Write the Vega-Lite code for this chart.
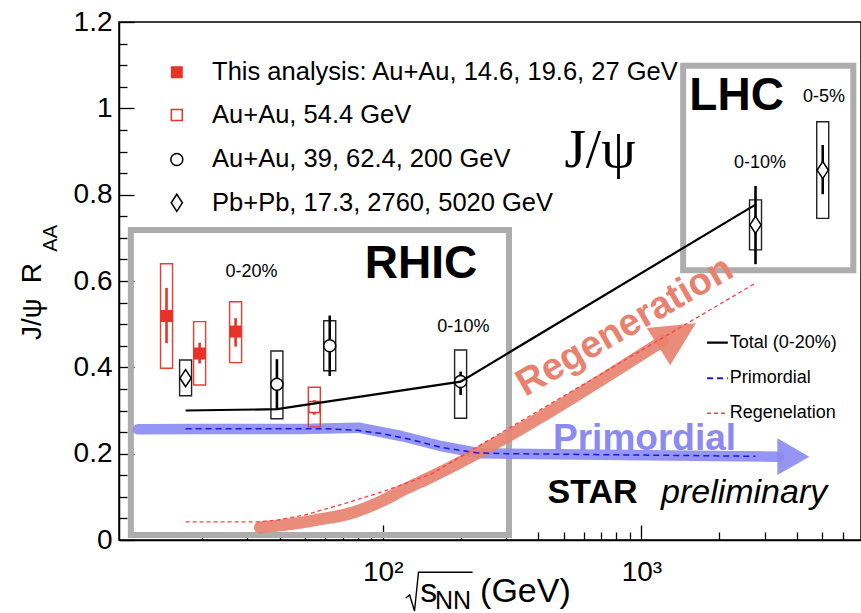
{
  "$schema": "https://vega.github.io/schema/vega-lite/v6.json",
  "width": 742,
  "height": 518,
  "autosize": {"type": "none"},
  "padding": {"left": 119, "top": 22, "right": 0, "bottom": 73},
  "background": "white",
  "config": {
    "view": {"stroke": "black", "strokeWidth": 1.5},
    "font": "Liberation Sans",
    "text": {"font": "Liberation Sans", "color": "black"}
  },
  "datasets": {
    "measurements": [
      {"label": "This analysis: Au+Au, 14.6, 19.6, 27 GeV", "x": 14.6, "y": 0.519, "statLo": 0.456, "statHi": 0.584, "sysLo": 0.398, "sysHi": 0.640},
      {"label": "This analysis: Au+Au, 14.6, 19.6, 27 GeV", "x": 19.6, "y": 0.432, "statLo": 0.409, "statHi": 0.457, "sysLo": 0.359, "sysHi": 0.506},
      {"label": "This analysis: Au+Au, 14.6, 19.6, 27 GeV", "x": 27, "y": 0.483, "statLo": 0.448, "statHi": 0.514, "sysLo": 0.411, "sysHi": 0.552},
      {"label": "Au+Au, 54.4 GeV", "x": 54.4, "y": 0.308, "statLo": 0.290, "statHi": 0.324, "sysLo": 0.262, "sysHi": 0.354},
      {"label": "Au+Au, 39, 62.4, 200 GeV", "x": 39, "y": 0.361, "statLo": 0.301, "statHi": 0.419, "sysLo": 0.281, "sysHi": 0.438},
      {"label": "Au+Au, 39, 62.4, 200 GeV", "x": 62.4, "y": 0.450, "statLo": 0.380, "statHi": 0.520, "sysLo": 0.392, "sysHi": 0.508},
      {"label": "Au+Au, 39, 62.4, 200 GeV", "x": 200, "y": 0.367, "statLo": 0.336, "statHi": 0.390, "sysLo": 0.282, "sysHi": 0.440},
      {"label": "Pb+Pb, 17.3, 2760, 5020 GeV", "x": 17.3, "y": 0.375, "statLo": 0.365, "statHi": 0.385, "sysLo": 0.334, "sysHi": 0.417},
      {"label": "Pb+Pb, 17.3, 2760, 5020 GeV", "x": 2760, "y": 0.730, "statLo": 0.639, "statHi": 0.820, "sysLo": 0.672, "sysHi": 0.788},
      {"label": "Pb+Pb, 17.3, 2760, 5020 GeV", "x": 5020, "y": 0.857, "statLo": 0.801, "statHi": 0.915, "sysLo": 0.745, "sysHi": 0.969}
    ],
    "legendRows": [
      {"label": "This analysis: Au+Au, 14.6, 19.6, 27 GeV", "x": 16.0, "tx": 21.9, "y": 1.0837},
      {"label": "Au+Au, 54.4 GeV", "x": 16.0, "tx": 21.9, "y": 0.9846},
      {"label": "Au+Au, 39, 62.4, 200 GeV", "x": 16.0, "tx": 21.9, "y": 0.8815},
      {"label": "Pb+Pb, 17.3, 2760, 5020 GeV", "x": 16.0, "tx": 21.9, "y": 0.7812}
    ],
    "models": [
      {"model": "Total", "x": 17.3, "y": 0.300},
      {"model": "Total", "x": 39, "y": 0.303},
      {"model": "Total", "x": 200, "y": 0.367},
      {"model": "Total", "x": 2760, "y": 0.777},
      {"model": "Primordial", "x": 17.3, "y": 0.258},
      {"model": "Primordial", "x": 60, "y": 0.258},
      {"model": "Primordial", "x": 80, "y": 0.254},
      {"model": "Primordial", "x": 100, "y": 0.246},
      {"model": "Primordial", "x": 130, "y": 0.232},
      {"model": "Primordial", "x": 170, "y": 0.214},
      {"model": "Primordial", "x": 230, "y": 0.202},
      {"model": "Primordial", "x": 300, "y": 0.200},
      {"model": "Primordial", "x": 2760, "y": 0.194},
      {"model": "Regeneration", "x": 17.3, "y": 0.042},
      {"model": "Regeneration", "x": 33, "y": 0.042},
      {"model": "Regeneration", "x": 39, "y": 0.046},
      {"model": "Regeneration", "x": 50, "y": 0.058},
      {"model": "Regeneration", "x": 70, "y": 0.083},
      {"model": "Regeneration", "x": 100, "y": 0.112},
      {"model": "Regeneration", "x": 153, "y": 0.152},
      {"model": "Regeneration", "x": 2760, "y": 0.595}
    ],
    "modelKey": [
      {"label": "Total (0-20%)", "x": 1793, "x2": 2157, "tx": 2194, "y": 0.4571},
      {"label": "Primordial", "x": 1793, "x2": 2157, "tx": 2194, "y": 0.3746},
      {"label": "Regenelation", "x": 1793, "x2": 2157, "tx": 2194, "y": 0.2935}
    ]
  },
  "layer": [
    {
      "data": {"values": [
        {"region": "RHIC", "x": 10.63, "x2": 307.7, "y": 0.0116, "y2": 0.7181},
        {"region": "LHC", "x": 1449.7, "x2": 6592, "y": 0.6248, "y2": 1.0985}
      ]},
      "mark": {"type": "rect", "fill": "transparent", "stroke": "#adadad", "strokeWidth": 6},
      "encoding": {
        "x": {"field": "x", "type": "quantitative",
          "scale": {"type": "log", "domain": [10, 6750], "nice": false, "zero": false},
          "axis": {
            "orient": "bottom", "title": null, "grid": false, "ticks": false,
            "values": [100, 1000],
            "labelExpr": "datum.value == 100 ? '10²' : '10³'",
            "domainColor": "black", "domainWidth": 1.5,
            "labelFont": "Liberation Sans", "labelFontSize": 28, "labelColor": "black", "labelPadding": 18,
            "labelFlush": false, "labelOverlap": false, "labelBound": false
          }
        },
        "x2": {"field": "x2"},
        "y": {"field": "y", "type": "quantitative",
          "scale": {"domain": [0, 1.2], "nice": false, "zero": false},
          "axis": {
            "orient": "left", "title": null, "grid": false, "ticks": false,
            "values": [0, 0.2, 0.4, 0.6, 0.8, 1, 1.2],
            "format": "~g",
            "domainColor": "black", "domainWidth": 1.5,
            "labelFont": "Liberation Sans", "labelFontSize": 28, "labelColor": "black", "labelPadding": 7,
            "labelFlush": false, "labelOverlap": false, "labelBound": false
          }
        },
        "y2": {"field": "y2"}
      }
    },
    {
      "data": {"values": [
        {"x": 11.31, "y": 0.2564}, {"x": 20.36, "y": 0.2571}, {"x": 49.0, "y": 0.2572},
        {"x": 80.6, "y": 0.2602}, {"x": 117.9, "y": 0.2409}, {"x": 167.5, "y": 0.2178},
        {"x": 237.9, "y": 0.2008}, {"x": 3401, "y": 0.1930}
      ]},
      "mark": {"type": "line", "color": "#8a8af2", "strokeWidth": 10.5, "strokeCap": "round", "strokeJoin": "round", "opacity": 0.9},
      "encoding": {
        "x": {"field": "x", "type": "quantitative", "scale": {"type": "log", "domain": [10, 6750], "nice": false, "zero": false},
          "axis": {"orient": "bottom", "title": null, "grid": false, "labels": false, "domain": false,
                   "values": [100, 1000], "tickSize": -15, "tickColor": "black", "tickWidth": 1.3}},
        "y": {"field": "y", "type": "quantitative", "scale": {"domain": [0, 1.2], "nice": false, "zero": false},
          "axis": {"orient": "left", "title": null, "grid": false, "labels": false, "domain": false,
                   "values": [0, 0.2, 0.4, 0.6, 0.8, 1, 1.2], "tickSize": -15, "tickColor": "black", "tickWidth": 1.3}}
      }
    },
    {
      "data": {"values": [{"x": 3865, "y": 0.193}]},
      "mark": {"type": "point", "filled": true, "shape": "M-1,-1.15L1,0L-1,1.15Z", "size": 1024, "color": "#8a8af2", "opacity": 0.9},
      "encoding": {
        "x": {"field": "x", "type": "quantitative", "scale": {"type": "log", "domain": [10, 6750], "nice": false, "zero": false}, "axis": null},
        "y": {"field": "y", "type": "quantitative", "scale": {"domain": [0, 1.2], "nice": false, "zero": false}, "axis": null}
      }
    },
    {
      "data": {"values": [
        {"x": 33.5, "y": 0.029}, {"x": 42, "y": 0.035}, {"x": 55, "y": 0.046}, {"x": 78, "y": 0.065},
        {"x": 99, "y": 0.090}, {"x": 120, "y": 0.116}, {"x": 153.4, "y": 0.1459}, {"x": 1208, "y": 0.461}
      ]},
      "mark": {"type": "line", "color": "#e8826f", "strokeWidth": 12, "strokeCap": "round", "strokeJoin": "round", "opacity": 0.92, "interpolate": "monotone"},
      "encoding": {
        "x": {"field": "x", "type": "quantitative", "scale": {"type": "log", "domain": [10, 6750], "nice": false, "zero": false},
          "axis": {"orient": "bottom", "title": null, "grid": false, "labels": false, "domain": false,
                   "values": [20, 30, 40, 50, 60, 70, 80, 90, 200, 300, 400, 500, 600, 700, 800, 900, 2000, 3000, 4000, 5000, 6000],
                   "tickSize": -8, "tickColor": "black", "tickWidth": 1.3}},
        "y": {"field": "y", "type": "quantitative", "scale": {"domain": [0, 1.2], "nice": false, "zero": false},
          "axis": {"orient": "left", "title": null, "grid": false, "labels": false, "domain": false,
                   "values": [0.05, 0.1, 0.15, 0.25, 0.3, 0.35, 0.45, 0.5, 0.55, 0.65, 0.7, 0.75, 0.85, 0.9, 0.95, 1.05, 1.1, 1.15],
                   "tickSize": -8, "tickColor": "black", "tickWidth": 1.3}}
      }
    },
    {
      "data": {"values": [{"x": 1374, "y": 0.4749}]},
      "mark": {"type": "point", "filled": true, "shape": "M-1,-1L1,0L-1,1Z", "size": 1936, "angle": 328, "color": "#e8826f", "opacity": 0.92},
      "encoding": {
        "x": {"field": "x", "type": "quantitative", "scale": {"type": "log", "domain": [10, 6750], "nice": false, "zero": false}, "axis": null},
        "y": {"field": "y", "type": "quantitative", "scale": {"domain": [0, 1.2], "nice": false, "zero": false}, "axis": null}
      }
    },
    {
      "data": {"name": "models"},
      "transform": [{"filter": "datum.model == 'Primordial'"}],
      "mark": {"type": "line", "color": "#1a1ae6", "strokeWidth": 1.5, "strokeDash": [6, 4]},
      "encoding": {
        "x": {"field": "x", "type": "quantitative", "scale": {"type": "log", "domain": [10, 6750], "nice": false, "zero": false}, "axis": null},
        "y": {"field": "y", "type": "quantitative", "scale": {"domain": [0, 1.2], "nice": false, "zero": false}, "axis": null}
      }
    },
    {
      "data": {"name": "models"},
      "transform": [{"filter": "datum.model == 'Regeneration'"}],
      "mark": {"type": "line", "color": "#ff4040", "strokeWidth": 1.3, "strokeDash": [4, 3]},
      "encoding": {
        "x": {"field": "x", "type": "quantitative", "scale": {"type": "log", "domain": [10, 6750], "nice": false, "zero": false}, "axis": null},
        "y": {"field": "y", "type": "quantitative", "scale": {"domain": [0, 1.2], "nice": false, "zero": false}, "axis": null}
      }
    },
    {
      "data": {"name": "measurements"},
      "mark": {"type": "bar", "width": 12, "fill": "transparent", "strokeWidth": 1.4},
      "encoding": {
        "x": {"field": "x", "type": "quantitative", "scale": {"type": "log", "domain": [10, 6750], "nice": false, "zero": false}, "axis": null},
        "y": {"field": "sysLo", "type": "quantitative", "scale": {"domain": [0, 1.2], "nice": false, "zero": false}, "axis": null},
        "y2": {"field": "sysHi"},
        "stroke": {"field": "label", "type": "nominal", "legend": null,
          "scale": {"domain": ["This analysis: Au+Au, 14.6, 19.6, 27 GeV", "Au+Au, 54.4 GeV", "Au+Au, 39, 62.4, 200 GeV", "Pb+Pb, 17.3, 2760, 5020 GeV"],
                    "range": ["#ee3b30", "#ee3b30", "#222222", "#222222"]}}
      }
    },
    {
      "data": {"name": "measurements"},
      "mark": {"type": "rule", "strokeWidth": 2.6},
      "encoding": {
        "x": {"field": "x", "type": "quantitative", "scale": {"type": "log", "domain": [10, 6750], "nice": false, "zero": false}, "axis": null},
        "y": {"field": "statLo", "type": "quantitative", "scale": {"domain": [0, 1.2], "nice": false, "zero": false}, "axis": null},
        "y2": {"field": "statHi"},
        "stroke": {"field": "label", "type": "nominal", "legend": null,
          "scale": {"domain": ["This analysis: Au+Au, 14.6, 19.6, 27 GeV", "Au+Au, 54.4 GeV", "Au+Au, 39, 62.4, 200 GeV", "Pb+Pb, 17.3, 2760, 5020 GeV"],
                    "range": ["#e8332a", "#e8332a", "black", "black"]}}
      }
    },
    {
      "data": {"name": "measurements"},
      "mark": {"type": "point", "filled": true, "strokeWidth": 1.5, "opacity": 1, "size": 324},
      "encoding": {
        "x": {"field": "x", "type": "quantitative", "scale": {"type": "log", "domain": [10, 6750], "nice": false, "zero": false}, "axis": null},
        "y": {"field": "y", "type": "quantitative", "scale": {"domain": [0, 1.2], "nice": false, "zero": false}, "axis": null},
        "shape": {"field": "label", "type": "nominal", "legend": null,
          "scale": {"domain": ["This analysis: Au+Au, 14.6, 19.6, 27 GeV", "Au+Au, 54.4 GeV", "Au+Au, 39, 62.4, 200 GeV", "Pb+Pb, 17.3, 2760, 5020 GeV"],
                    "range": ["M-0.58,-0.58L0.58,-0.58L0.58,0.58L-0.58,0.58Z", "M-0.61,-0.61L0.61,-0.61L0.61,0.61L-0.61,0.61Z", "M-0.667,0A0.667,0.667,0,1,0,0.667,0A0.667,0.667,0,1,0,-0.667,0Z", "M0,-0.95L0.62,0L0,0.95L-0.62,0Z"]}},
        "fill": {"field": "label", "type": "nominal", "legend": null,
          "scale": {"domain": ["This analysis: Au+Au, 14.6, 19.6, 27 GeV", "Au+Au, 54.4 GeV", "Au+Au, 39, 62.4, 200 GeV", "Pb+Pb, 17.3, 2760, 5020 GeV"],
                    "range": ["#e8332a", "white", "white", "white"]}},
        "stroke": {"field": "label", "type": "nominal", "legend": null,
          "scale": {"domain": ["This analysis: Au+Au, 14.6, 19.6, 27 GeV", "Au+Au, 54.4 GeV", "Au+Au, 39, 62.4, 200 GeV", "Pb+Pb, 17.3, 2760, 5020 GeV"],
                    "range": ["#e8332a", "#e8332a", "black", "black"]}}
      }
    },
    {
      "data": {"name": "models"},
      "transform": [{"filter": "datum.model == 'Total'"}],
      "mark": {"type": "line", "color": "black", "strokeWidth": 2.2},
      "encoding": {
        "x": {"field": "x", "type": "quantitative", "scale": {"type": "log", "domain": [10, 6750], "nice": false, "zero": false}, "axis": null},
        "y": {"field": "y", "type": "quantitative", "scale": {"domain": [0, 1.2], "nice": false, "zero": false}, "axis": null}
      }
    },
    {
      "data": {"name": "legendRows"},
      "mark": {"type": "point", "filled": true, "strokeWidth": 1.5, "opacity": 1, "size": 324},
      "encoding": {
        "x": {"field": "x", "type": "quantitative", "scale": {"type": "log", "domain": [10, 6750], "nice": false, "zero": false}, "axis": null},
        "y": {"field": "y", "type": "quantitative", "scale": {"domain": [0, 1.2], "nice": false, "zero": false}, "axis": null},
        "shape": {"field": "label", "type": "nominal", "legend": null,
          "scale": {"domain": ["This analysis: Au+Au, 14.6, 19.6, 27 GeV", "Au+Au, 54.4 GeV", "Au+Au, 39, 62.4, 200 GeV", "Pb+Pb, 17.3, 2760, 5020 GeV"],
                    "range": ["M-0.58,-0.58L0.58,-0.58L0.58,0.58L-0.58,0.58Z", "M-0.61,-0.61L0.61,-0.61L0.61,0.61L-0.61,0.61Z", "M-0.667,0A0.667,0.667,0,1,0,0.667,0A0.667,0.667,0,1,0,-0.667,0Z", "M0,-0.95L0.62,0L0,0.95L-0.62,0Z"]}},
        "fill": {"field": "label", "type": "nominal", "legend": null,
          "scale": {"domain": ["This analysis: Au+Au, 14.6, 19.6, 27 GeV", "Au+Au, 54.4 GeV", "Au+Au, 39, 62.4, 200 GeV", "Pb+Pb, 17.3, 2760, 5020 GeV"],
                    "range": ["#e8332a", "white", "white", "white"]}},
        "stroke": {"field": "label", "type": "nominal", "legend": null,
          "scale": {"domain": ["This analysis: Au+Au, 14.6, 19.6, 27 GeV", "Au+Au, 54.4 GeV", "Au+Au, 39, 62.4, 200 GeV", "Pb+Pb, 17.3, 2760, 5020 GeV"],
                    "range": ["#e8332a", "#e8332a", "black", "black"]}}
      }
    },
    {
      "data": {"name": "legendRows"},
      "mark": {"type": "text", "fontSize": 25.5, "align": "left", "baseline": "middle"},
      "encoding": {
        "x": {"field": "tx", "type": "quantitative", "scale": {"type": "log", "domain": [10, 6750], "nice": false, "zero": false}, "axis": null},
        "y": {"field": "y", "type": "quantitative", "scale": {"domain": [0, 1.2], "nice": false, "zero": false}, "axis": null},
        "text": {"field": "label"}
      }
    },
    {
      "data": {"name": "modelKey"},
      "mark": {"type": "rule"},
      "encoding": {
        "x": {"field": "x", "type": "quantitative", "scale": {"type": "log", "domain": [10, 6750], "nice": false, "zero": false}, "axis": null},
        "x2": {"field": "x2"},
        "y": {"field": "y", "type": "quantitative", "scale": {"domain": [0, 1.2], "nice": false, "zero": false}, "axis": null},
        "stroke": {"field": "label", "type": "nominal", "legend": null,
          "scale": {"domain": ["Total (0-20%)", "Primordial", "Regenelation"], "range": ["black", "#1a1ae6", "#ff4040"]}},
        "strokeDash": {"field": "label", "type": "nominal", "legend": null,
          "scale": {"domain": ["Total (0-20%)", "Primordial", "Regenelation"], "range": [[1, 0], [6, 4], [4, 3]]}},
        "strokeWidth": {"field": "label", "type": "nominal", "legend": null,
          "scale": {"domain": ["Total (0-20%)", "Primordial", "Regenelation"], "range": [2.2, 1.5, 1.3]}}
      }
    },
    {
      "data": {"name": "modelKey"},
      "mark": {"type": "text", "fontSize": 18, "align": "left", "baseline": "middle"},
      "encoding": {
        "x": {"field": "tx", "type": "quantitative", "scale": {"type": "log", "domain": [10, 6750], "nice": false, "zero": false}, "axis": null},
        "y": {"field": "y", "type": "quantitative", "scale": {"domain": [0, 1.2], "nice": false, "zero": false}, "axis": null},
        "text": {"field": "label"}
      }
    },
    {
      "data": {"values": [
        {"text": "0-20%", "x": 31.1, "y": 0.6215},
        {"text": "0-10%", "x": 205, "y": 0.494},
        {"text": "0-10%", "x": 2874, "y": 0.8727},
        {"text": "0-5%", "x": 5082, "y": 1.0256}
      ]},
      "mark": {"type": "text", "fontSize": 18, "align": "center", "baseline": "middle"},
      "encoding": {
        "x": {"field": "x", "type": "quantitative", "scale": {"type": "log", "domain": [10, 6750], "nice": false, "zero": false}, "axis": null},
        "y": {"field": "y", "type": "quantitative", "scale": {"domain": [0, 1.2], "nice": false, "zero": false}, "axis": null},
        "text": {"field": "text"}
      }
    },
    {
      "data": {"values": [
        {"text": "RHIC", "x": 140.5, "y": 0.607},
        {"text": "LHC", "x": 2333, "y": 0.9961}
      ]},
      "mark": {"type": "text", "fontSize": 46, "fontWeight": "bold", "align": "center", "baseline": "alphabetic"},
      "encoding": {
        "x": {"field": "x", "type": "quantitative", "scale": {"type": "log", "domain": [10, 6750], "nice": false, "zero": false}, "axis": null},
        "y": {"field": "y", "type": "quantitative", "scale": {"domain": [0, 1.2], "nice": false, "zero": false}, "axis": null},
        "text": {"field": "text"}
      }
    },
    {
      "data": {"values": [{"text": "J/ψ", "x": 691.6, "y": 0.8648}]},
      "mark": {"type": "text", "font": "Liberation Serif", "fontSize": 55, "align": "center", "baseline": "alphabetic"},
      "encoding": {
        "x": {"field": "x", "type": "quantitative", "scale": {"type": "log", "domain": [10, 6750], "nice": false, "zero": false}, "axis": null},
        "y": {"field": "y", "type": "quantitative", "scale": {"domain": [0, 1.2], "nice": false, "zero": false}, "axis": null},
        "text": {"field": "text"}
      }
    },
    {
      "data": {"values": [{"text": "Primordial", "x": 1028, "y": 0.2085}]},
      "mark": {"type": "text", "fontSize": 37, "fontWeight": "bold", "color": "#8a8af2", "align": "center", "baseline": "alphabetic"},
      "encoding": {
        "x": {"field": "x", "type": "quantitative", "scale": {"type": "log", "domain": [10, 6750], "nice": false, "zero": false}, "axis": null},
        "y": {"field": "y", "type": "quantitative", "scale": {"domain": [0, 1.2], "nice": false, "zero": false}, "axis": null},
        "text": {"field": "text"}
      }
    },
    {
      "data": {"values": [{"text": "Regeneration", "x": 862.9, "y": 0.494}]},
      "mark": {"type": "text", "fontSize": 38, "fontWeight": "bold", "color": "#e8826f", "angle": 330, "align": "center", "baseline": "middle"},
      "encoding": {
        "x": {"field": "x", "type": "quantitative", "scale": {"type": "log", "domain": [10, 6750], "nice": false, "zero": false}, "axis": null},
        "y": {"field": "y", "type": "quantitative", "scale": {"domain": [0, 1.2], "nice": false, "zero": false}, "axis": null},
        "text": {"field": "text"}
      }
    },
    {
      "data": {"values": [{"text": "STAR", "x": 433.6, "y": 0.085}]},
      "mark": {"type": "text", "fontSize": 34, "fontWeight": "bold", "align": "left", "baseline": "alphabetic"},
      "encoding": {
        "x": {"field": "x", "type": "quantitative", "scale": {"type": "log", "domain": [10, 6750], "nice": false, "zero": false}, "axis": null},
        "y": {"field": "y", "type": "quantitative", "scale": {"domain": [0, 1.2], "nice": false, "zero": false}, "axis": null},
        "text": {"field": "text"}
      }
    },
    {
      "data": {"values": [{"text": "preliminary", "x": 1190, "y": 0.085}]},
      "mark": {"type": "text", "fontSize": 34, "fontStyle": "italic", "align": "left", "baseline": "alphabetic"},
      "encoding": {
        "x": {"field": "x", "type": "quantitative", "scale": {"type": "log", "domain": [10, 6750], "nice": false, "zero": false}, "axis": null},
        "y": {"field": "y", "type": "quantitative", "scale": {"domain": [0, 1.2], "nice": false, "zero": false}, "axis": null},
        "text": {"field": "text"}
      }
    },
    {
      "data": {"values": [
        {"text": "J/ψ", "x": 4.783, "y": 0.4633},
        {"text": "R", "x": 4.783, "y": 0.5947}
      ]},
      "mark": {"type": "text", "fontSize": 28, "angle": 270, "align": "left", "baseline": "alphabetic"},
      "encoding": {
        "x": {"field": "x", "type": "quantitative", "scale": {"type": "log", "domain": [10, 6750], "nice": false, "zero": false}, "axis": null},
        "y": {"field": "y", "type": "quantitative", "scale": {"domain": [0, 1.2], "nice": false, "zero": false}, "axis": null},
        "text": {"field": "text"}
      }
    },
    {
      "data": {"values": [{"text": "AA", "x": 5.49, "y": 0.6679}]},
      "mark": {"type": "text", "fontSize": 20, "angle": 270, "align": "left", "baseline": "alphabetic"},
      "encoding": {
        "x": {"field": "x", "type": "quantitative", "scale": {"type": "log", "domain": [10, 6750], "nice": false, "zero": false}, "axis": null},
        "y": {"field": "y", "type": "quantitative", "scale": {"domain": [0, 1.2], "nice": false, "zero": false}, "axis": null},
        "text": {"field": "text"}
      }
    },
    {
      "data": {"values": [
        {"step": 1, "x": 122.7, "y": -0.1344},
        {"step": 2, "x": 127.1, "y": -0.1274},
        {"step": 3, "x": 132.7, "y": -0.1645},
        {"step": 4, "x": 137.5, "y": -0.0748},
        {"step": 5, "x": 222.4, "y": -0.0748}
      ]},
      "mark": {"type": "line", "color": "black", "strokeWidth": 1.4, "strokeJoin": "miter"},
      "encoding": {
        "x": {"field": "x", "type": "quantitative", "scale": {"type": "log", "domain": [10, 6750], "nice": false, "zero": false}, "axis": null},
        "y": {"field": "y", "type": "quantitative", "scale": {"domain": [0, 1.2], "nice": false, "zero": false}, "axis": null},
        "order": {"field": "step"}
      }
    },
    {
      "data": {"values": [
        {"text": "s", "x": 139.7, "y": -0.1429},
        {"text": "(GeV)", "x": 237.9, "y": -0.1443}
      ]},
      "mark": {"type": "text", "fontSize": 34, "align": "left", "baseline": "alphabetic"},
      "encoding": {
        "x": {"field": "x", "type": "quantitative", "scale": {"type": "log", "domain": [10, 6750], "nice": false, "zero": false}, "axis": null},
        "y": {"field": "y", "type": "quantitative", "scale": {"domain": [0, 1.2], "nice": false, "zero": false}, "axis": null},
        "text": {"field": "text"}
      }
    },
    {
      "data": {"values": [{"text": "NN", "x": 159.3, "y": -0.1600}]},
      "mark": {"type": "text", "fontSize": 25, "align": "left", "baseline": "alphabetic"},
      "encoding": {
        "x": {"field": "x", "type": "quantitative", "scale": {"type": "log", "domain": [10, 6750], "nice": false, "zero": false}, "axis": null},
        "y": {"field": "y", "type": "quantitative", "scale": {"domain": [0, 1.2], "nice": false, "zero": false}, "axis": null},
        "text": {"field": "text"}
      }
    }
  ],
  "resolve": {
    "axis": {"x": "independent", "y": "independent"},
    "scale": {"stroke": "independent", "fill": "independent", "shape": "independent", "size": "independent", "strokeDash": "independent", "strokeWidth": "independent"}
  }
}
